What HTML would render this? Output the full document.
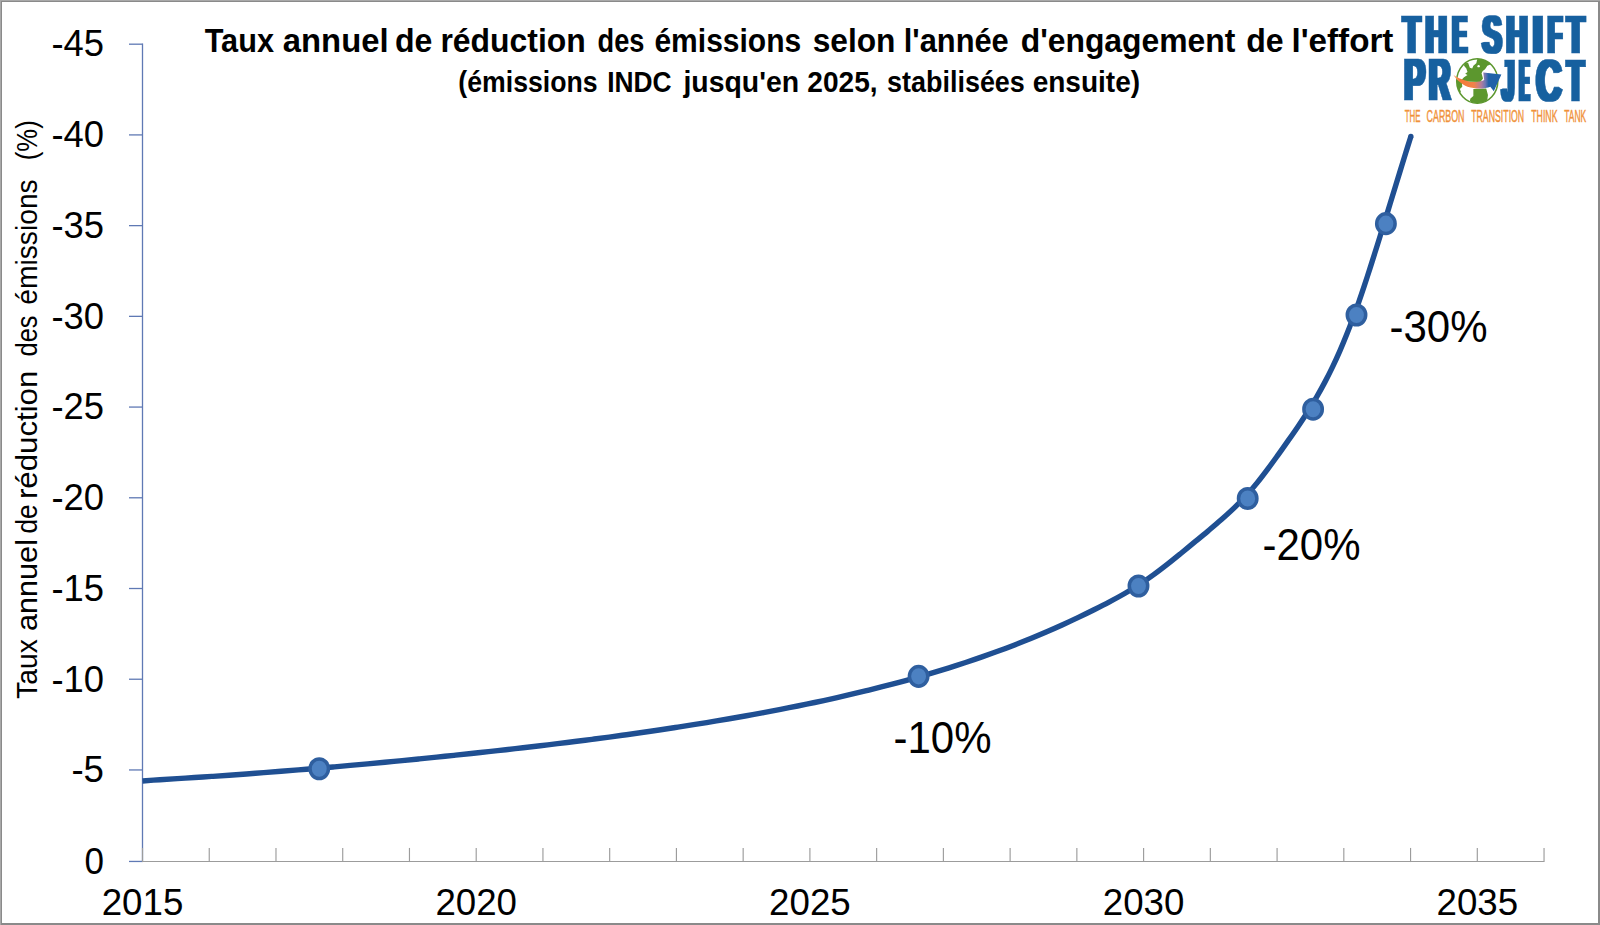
<!DOCTYPE html>
<html lang="fr"><head><meta charset="utf-8"><title>Taux annuel de réduction des émissions</title>
<style>
html,body{margin:0;padding:0;background:#fff;}
body{width:1600px;height:925px;overflow:hidden;}
svg{display:block;}
text{font-family:"Liberation Sans",sans-serif;fill:#000;}
.b{font-weight:bold;}
.logo{font-family:"Liberation Sans",sans-serif;font-weight:bold;fill:#18609f;stroke:#18609f;stroke-width:0.7px;}
.tag{fill:#f0923a;stroke:#f0923a;stroke-width:0.45px;}
</style></head><body>
<svg width="1600" height="925" viewBox="0 0 1600 925">
<defs>
<filter id="fat" x="-5%" y="-5%" width="110%" height="110%"><feMorphology operator="dilate" radius="2 0"/></filter>
<linearGradient id="arw" gradientUnits="userSpaceOnUse" x1="60" y1="0" x2="700" y2="0">
<stop offset="0" stop-color="#f9a36b"/><stop offset="0.18" stop-color="#f47a36"/><stop offset="0.55" stop-color="#f0824a"/><stop offset="0.74" stop-color="#b27c9c"/><stop offset="0.85" stop-color="#6f77b3"/><stop offset="0.94" stop-color="#1f62a8"/><stop offset="1" stop-color="#1f62a8"/></linearGradient>
<clipPath id="gc"><ellipse cx="467" cy="462" rx="352" ry="382"/></clipPath>
</defs>
<rect x="0" y="0" width="1600" height="925" fill="#fff"/>
<rect x="1" y="1" width="1598" height="923" fill="none" stroke="#8a8a8a" stroke-width="2"/>
<rect x="0" y="0" width="1600" height="1" fill="#a8a8a8"/>
<rect x="0" y="0" width="1" height="925" fill="#a8a8a8"/>
<g stroke="#5f79b4" stroke-width="1.3" fill="none">
<line x1="142.50" y1="43.59" x2="142.50" y2="861.45"/>
<line x1="129.00" y1="861.45" x2="142.50" y2="861.45"/>
<line x1="129.00" y1="769.95" x2="142.50" y2="769.95"/>
<line x1="129.00" y1="679.23" x2="142.50" y2="679.23"/>
<line x1="129.00" y1="588.51" x2="142.50" y2="588.51"/>
<line x1="129.00" y1="497.79" x2="142.50" y2="497.79"/>
<line x1="129.00" y1="407.07" x2="142.50" y2="407.07"/>
<line x1="129.00" y1="316.35" x2="142.50" y2="316.35"/>
<line x1="129.00" y1="225.63" x2="142.50" y2="225.63"/>
<line x1="129.00" y1="134.91" x2="142.50" y2="134.91"/>
<line x1="129.00" y1="44.19" x2="142.50" y2="44.19"/>
</g>
<g stroke="#9c9c9c" stroke-width="1.15" fill="none">
<line x1="142.50" y1="861.45" x2="1544.04" y2="861.45"/>
<line x1="142.50" y1="847.95" x2="142.50" y2="862.05"/>
<line x1="209.24" y1="847.95" x2="209.24" y2="862.05"/>
<line x1="275.98" y1="847.95" x2="275.98" y2="862.05"/>
<line x1="342.72" y1="847.95" x2="342.72" y2="862.05"/>
<line x1="409.46" y1="847.95" x2="409.46" y2="862.05"/>
<line x1="476.20" y1="847.95" x2="476.20" y2="862.05"/>
<line x1="542.94" y1="847.95" x2="542.94" y2="862.05"/>
<line x1="609.68" y1="847.95" x2="609.68" y2="862.05"/>
<line x1="676.42" y1="847.95" x2="676.42" y2="862.05"/>
<line x1="743.16" y1="847.95" x2="743.16" y2="862.05"/>
<line x1="809.90" y1="847.95" x2="809.90" y2="862.05"/>
<line x1="876.64" y1="847.95" x2="876.64" y2="862.05"/>
<line x1="943.38" y1="847.95" x2="943.38" y2="862.05"/>
<line x1="1010.12" y1="847.95" x2="1010.12" y2="862.05"/>
<line x1="1076.86" y1="847.95" x2="1076.86" y2="862.05"/>
<line x1="1143.60" y1="847.95" x2="1143.60" y2="862.05"/>
<line x1="1210.34" y1="847.95" x2="1210.34" y2="862.05"/>
<line x1="1277.08" y1="847.95" x2="1277.08" y2="862.05"/>
<line x1="1343.82" y1="847.95" x2="1343.82" y2="862.05"/>
<line x1="1410.56" y1="847.95" x2="1410.56" y2="862.05"/>
<line x1="1477.30" y1="847.95" x2="1477.30" y2="862.05"/>
<line x1="1544.04" y1="847.95" x2="1544.04" y2="862.05"/>
</g>
<path d="M142.50 781.00 C145.39 780.79 154.04 780.11 159.82 779.72 C165.59 779.33 171.37 779.03 177.15 778.67 C182.93 778.31 188.70 777.94 194.48 777.56 C200.26 777.18 206.03 776.79 211.81 776.40 C217.59 776.01 223.37 775.61 229.14 775.20 C234.91 774.79 240.68 774.37 246.45 773.94 C252.22 773.51 258.00 773.08 263.77 772.64 C269.54 772.20 275.31 771.75 281.08 771.29 C286.85 770.83 292.62 770.36 298.39 769.89 C304.16 769.42 309.92 768.94 315.69 768.45 C321.46 767.96 327.22 767.46 332.99 766.96 C338.76 766.46 344.53 765.95 350.29 765.43 C356.06 764.91 361.82 764.38 367.58 763.85 C373.34 763.32 379.10 762.79 384.86 762.24 C390.62 761.69 396.39 761.13 402.15 760.57 C407.91 760.01 413.67 759.44 419.43 758.87 C425.19 758.30 430.95 757.72 436.71 757.13 C442.47 756.54 448.22 755.94 453.98 755.34 C459.74 754.74 465.50 754.13 471.25 753.52 C477.00 752.90 482.76 752.28 488.51 751.65 C494.26 751.02 500.02 750.38 505.77 749.74 C511.52 749.10 517.28 748.44 523.03 747.78 C528.78 747.12 534.53 746.44 540.28 745.76 C546.03 745.08 551.77 744.38 557.52 743.68 C563.26 742.98 569.01 742.26 574.75 741.54 C580.49 740.82 586.24 740.09 591.98 739.34 C597.72 738.59 603.46 737.83 609.19 737.06 C614.93 736.29 620.66 735.51 626.39 734.71 C632.12 733.91 637.85 733.10 643.58 732.27 C649.31 731.44 655.03 730.61 660.76 729.75 C666.49 728.89 672.21 728.02 677.93 727.14 C683.65 726.25 689.37 725.36 695.08 724.44 C700.80 723.53 706.51 722.60 712.22 721.65 C717.93 720.70 723.64 719.74 729.34 718.75 C735.04 717.76 740.74 716.76 746.44 715.74 C752.14 714.72 757.84 713.68 763.53 712.62 C769.22 711.56 774.91 710.48 780.59 709.38 C786.27 708.28 791.96 707.16 797.63 706.01 C803.30 704.86 808.97 703.69 814.63 702.49 C820.29 701.29 825.95 700.06 831.60 698.81 C837.25 697.56 842.89 696.28 848.53 694.97 C854.17 693.66 859.80 692.32 865.42 690.95 C871.04 689.58 876.65 688.18 882.26 686.74 C887.87 685.30 893.47 683.84 899.06 682.33 C904.65 680.83 910.22 679.29 915.79 677.71 C921.36 676.13 926.91 674.52 932.46 672.87 C938.01 671.22 943.55 669.53 949.07 667.80 C954.59 666.07 960.10 664.30 965.59 662.48 C971.08 660.66 976.57 658.81 982.03 656.90 C987.49 654.99 992.94 653.04 998.37 651.04 C1003.80 649.04 1009.22 647.00 1014.61 644.91 C1020.00 642.81 1025.38 640.66 1030.74 638.47 C1036.10 636.28 1041.43 634.03 1046.75 631.74 C1052.07 629.45 1057.37 627.10 1062.64 624.71 C1067.91 622.32 1073.16 619.88 1078.39 617.39 C1083.62 614.90 1088.83 612.36 1094.01 609.77 C1099.19 607.18 1104.36 604.57 1109.47 601.86 C1114.58 599.15 1119.68 596.41 1124.68 593.52 C1129.68 590.63 1134.62 587.64 1139.46 584.50 C1144.30 581.36 1149.02 578.05 1153.70 574.66 C1158.38 571.27 1162.96 567.73 1167.52 564.17 C1172.08 560.61 1176.58 556.93 1181.08 553.27 C1185.58 549.61 1190.04 545.89 1194.52 542.20 C1199.00 538.51 1203.50 534.83 1207.94 531.10 C1212.38 527.37 1216.84 523.66 1221.17 519.83 C1225.51 516.00 1229.81 512.15 1233.95 508.15 C1238.10 504.14 1242.15 500.05 1246.04 495.80 C1249.93 491.55 1253.65 487.13 1257.29 482.65 C1260.93 478.17 1264.41 473.53 1267.88 468.90 C1271.35 464.26 1274.72 459.54 1278.10 454.84 C1281.48 450.14 1284.84 445.42 1288.16 440.68 C1291.48 435.94 1294.81 431.21 1298.04 426.42 C1301.27 421.63 1304.47 416.83 1307.56 411.94 C1310.65 407.05 1313.66 402.10 1316.57 397.09 C1319.48 392.08 1322.30 387.00 1325.00 381.87 C1327.70 376.75 1330.30 371.56 1332.80 366.34 C1335.30 361.12 1337.69 355.86 1340.00 350.56 C1342.31 345.26 1344.52 339.92 1346.67 334.56 C1348.82 329.20 1350.88 323.81 1352.90 318.39 C1354.92 312.97 1356.86 307.52 1358.77 302.06 C1360.68 296.60 1362.52 291.12 1364.35 285.63 C1366.18 280.14 1367.96 274.63 1369.73 269.12 C1371.50 263.61 1373.24 258.08 1374.98 252.56 C1376.72 247.04 1378.44 241.52 1380.16 235.99 C1381.88 230.46 1383.59 224.93 1385.29 219.40 C1386.99 213.87 1388.69 208.33 1390.39 202.80 C1392.09 197.27 1393.77 191.73 1395.47 186.20 C1397.17 180.67 1398.87 175.14 1400.57 169.61 C1402.27 164.08 1403.98 158.55 1405.69 153.03 C1407.40 147.51 1410.00 139.24 1410.86 136.48" fill="none" stroke="#1f4f92" stroke-width="5.4" stroke-linecap="butt" stroke-linejoin="round"/>
<circle cx="1410.86" cy="136.48" r="2.7" fill="#1f4f92"/>
<ellipse cx="319.25" cy="768.75" rx="9.2" ry="9.8" fill="#4c81c2" stroke="#2f5f9f" stroke-width="3.5"/>
<ellipse cx="918.60" cy="676.35" rx="9.2" ry="9.8" fill="#4c81c2" stroke="#2f5f9f" stroke-width="3.5"/>
<ellipse cx="1138.50" cy="586.00" rx="9.2" ry="9.8" fill="#4c81c2" stroke="#2f5f9f" stroke-width="3.5"/>
<ellipse cx="1247.70" cy="498.50" rx="9.2" ry="9.8" fill="#4c81c2" stroke="#2f5f9f" stroke-width="3.5"/>
<ellipse cx="1313.10" cy="409.20" rx="9.2" ry="9.8" fill="#4c81c2" stroke="#2f5f9f" stroke-width="3.5"/>
<ellipse cx="1356.50" cy="315.00" rx="9.2" ry="9.8" fill="#4c81c2" stroke="#2f5f9f" stroke-width="3.5"/>
<ellipse cx="1385.90" cy="223.65" rx="9.2" ry="9.8" fill="#4c81c2" stroke="#2f5f9f" stroke-width="3.5"/>
<text class="b" y="51.5" font-size="33.5"><tspan x="204.67" textLength="69.30" lengthAdjust="spacingAndGlyphs">Taux</tspan> <tspan x="282.79" textLength="105.79" lengthAdjust="spacingAndGlyphs">annuel</tspan> <tspan x="394.94" textLength="37.41" lengthAdjust="spacingAndGlyphs">de</tspan> <tspan x="440.40" textLength="145.33" lengthAdjust="spacingAndGlyphs">réduction</tspan> <tspan x="597.59" textLength="46.83" lengthAdjust="spacingAndGlyphs">des</tspan> <tspan x="654.43" textLength="146.80" lengthAdjust="spacingAndGlyphs">émissions</tspan> <tspan x="812.69" textLength="82.78" lengthAdjust="spacingAndGlyphs">selon</tspan> <tspan x="903.75" textLength="105.01" lengthAdjust="spacingAndGlyphs">l'année</tspan> <tspan x="1020.69" textLength="214.70" lengthAdjust="spacingAndGlyphs">d'engagement</tspan> <tspan x="1246.19" textLength="37.41" lengthAdjust="spacingAndGlyphs">de</tspan> <tspan x="1291.43" textLength="101.97" lengthAdjust="spacingAndGlyphs">l'effort</tspan></text>
<text class="b" y="92.2" font-size="29"><tspan x="458.37" textLength="139.22" lengthAdjust="spacingAndGlyphs">(émissions</tspan> <tspan x="607.14" textLength="64.38" lengthAdjust="spacingAndGlyphs">INDC</tspan> <tspan x="683.44" textLength="115.62" lengthAdjust="spacingAndGlyphs">jusqu'en</tspan> <tspan x="807.33" textLength="70.25" lengthAdjust="spacingAndGlyphs">2025,</tspan> <tspan x="887.05" textLength="137.80" lengthAdjust="spacingAndGlyphs">stabilisées</tspan> <tspan x="1032.65" textLength="107.49" lengthAdjust="spacingAndGlyphs">ensuite)</tspan></text>
<text transform="translate(37.2 698.3) rotate(-90)" y="0" font-size="30"><tspan x="-0.60" textLength="59.69" lengthAdjust="spacingAndGlyphs">Taux</tspan> <tspan x="67.30" textLength="91.95" lengthAdjust="spacingAndGlyphs">annuel</tspan> <tspan x="164.79" textLength="29.27" lengthAdjust="spacingAndGlyphs">de</tspan> <tspan x="199.23" textLength="128.40" lengthAdjust="spacingAndGlyphs">réduction</tspan> <tspan x="341.84" textLength="40.88" lengthAdjust="spacingAndGlyphs">des</tspan> <tspan x="393.60" textLength="125.42" lengthAdjust="spacingAndGlyphs">émissions</tspan> <tspan x="538.11" textLength="39.88" lengthAdjust="spacingAndGlyphs">(%)</tspan></text>
<text x="104.00" y="873.75" font-size="37" text-anchor="end" textLength="19.5" lengthAdjust="spacingAndGlyphs">0</text>
<text x="104.00" y="782.25" font-size="37" text-anchor="end" textLength="32.6" lengthAdjust="spacingAndGlyphs">-5</text>
<text x="104.00" y="691.53" font-size="37" text-anchor="end" textLength="52.6" lengthAdjust="spacingAndGlyphs">-10</text>
<text x="104.00" y="600.81" font-size="37" text-anchor="end" textLength="52.6" lengthAdjust="spacingAndGlyphs">-15</text>
<text x="104.00" y="510.09" font-size="37" text-anchor="end" textLength="52.6" lengthAdjust="spacingAndGlyphs">-20</text>
<text x="104.00" y="419.37" font-size="37" text-anchor="end" textLength="52.6" lengthAdjust="spacingAndGlyphs">-25</text>
<text x="104.00" y="328.65" font-size="37" text-anchor="end" textLength="52.6" lengthAdjust="spacingAndGlyphs">-30</text>
<text x="104.00" y="237.93" font-size="37" text-anchor="end" textLength="52.6" lengthAdjust="spacingAndGlyphs">-35</text>
<text x="104.00" y="147.21" font-size="37" text-anchor="end" textLength="52.6" lengthAdjust="spacingAndGlyphs">-40</text>
<text x="104.00" y="56.49" font-size="37" text-anchor="end" textLength="52.6" lengthAdjust="spacingAndGlyphs">-45</text>
<text x="142.50" y="914.9" font-size="37" text-anchor="middle" textLength="81.6" lengthAdjust="spacingAndGlyphs">2015</text>
<text x="476.20" y="914.9" font-size="37" text-anchor="middle" textLength="81.6" lengthAdjust="spacingAndGlyphs">2020</text>
<text x="809.90" y="914.9" font-size="37" text-anchor="middle" textLength="81.6" lengthAdjust="spacingAndGlyphs">2025</text>
<text x="1143.60" y="914.9" font-size="37" text-anchor="middle" textLength="81.6" lengthAdjust="spacingAndGlyphs">2030</text>
<text x="1477.30" y="914.9" font-size="37" text-anchor="middle" textLength="81.6" lengthAdjust="spacingAndGlyphs">2035</text>
<text x="893.50" y="752.90" font-size="44.5" textLength="98" lengthAdjust="spacingAndGlyphs">-10%</text>
<text x="1262.50" y="560.00" font-size="44.5" textLength="98" lengthAdjust="spacingAndGlyphs">-20%</text>
<text x="1389.50" y="341.60" font-size="44.5" textLength="98" lengthAdjust="spacingAndGlyphs">-30%</text>
<g id="logo">
<text class="logo" filter="url(#fat)"><tspan x="1403.08" y="52.6" font-size="53" textLength="17.32" lengthAdjust="spacingAndGlyphs">T</tspan><tspan x="1425.62" y="52.6" font-size="53" textLength="21.37" lengthAdjust="spacingAndGlyphs">H</tspan><tspan x="1452.46" y="52.6" font-size="53" textLength="14.39" lengthAdjust="spacingAndGlyphs">E</tspan> <tspan x="1482.26" y="52.6" font-size="53" textLength="19.48" lengthAdjust="spacingAndGlyphs">S</tspan><tspan x="1506.31" y="52.6" font-size="53" textLength="21.50" lengthAdjust="spacingAndGlyphs">H</tspan><tspan x="1532.21" y="52.6" font-size="53" textLength="11.19" lengthAdjust="spacingAndGlyphs">I</tspan><tspan x="1547.97" y="52.6" font-size="53" textLength="13.97" lengthAdjust="spacingAndGlyphs">F</tspan><tspan x="1566.98" y="52.6" font-size="53" textLength="17.43" lengthAdjust="spacingAndGlyphs">T</tspan></text>
<text class="logo" filter="url(#fat)"><tspan x="1404.21" y="100.3" font-size="59.5" textLength="20.86" lengthAdjust="spacingAndGlyphs">P</tspan><tspan x="1428.93" y="100.3" font-size="59.5" textLength="21.27" lengthAdjust="spacingAndGlyphs">R</tspan><tspan x="1467.83" y="94.0" font-size="36" textLength="18.36" lengthAdjust="spacingAndGlyphs">O</tspan><tspan x="1501.97" y="101.3" font-size="60" textLength="12.24" lengthAdjust="spacingAndGlyphs">J</tspan><tspan x="1519.86" y="101.3" font-size="60" textLength="9.39" lengthAdjust="spacingAndGlyphs">E</tspan><tspan x="1536.36" y="101.3" font-size="60" textLength="25.29" lengthAdjust="spacingAndGlyphs">C</tspan><tspan x="1566.99" y="101.3" font-size="60" textLength="17.01" lengthAdjust="spacingAndGlyphs">T</tspan></text>
<g transform="translate(1450 54) scale(0.058394)">
<ellipse cx="467" cy="462" rx="352" ry="382" fill="#fff" stroke="#5c972e" stroke-width="26"/>
<g clip-path="url(#gc)" fill="#5c972e">
<path d="M470 75 L560 85 L650 125 L700 175 L640 200 L600 260 L560 290 L540 330 L565 420 L520 480 L200 470 L200 440 L240 400 L300 360 L260 340 L300 310 L280 250 L240 200 L250 160 L310 150 L340 235 L380 250 L400 200 L450 160 Z"/>
<path d="M105 440 L200 450 L210 560 L170 600 L190 660 L130 640 Z"/>
<path d="M400 600 L620 590 L650 700 L640 780 L560 860 L400 860 L340 800 L350 760 L400 720 Z"/>
<circle cx="490" cy="208" r="20" fill="#fff"/>
</g>
<path d="M60 360 C110 395 200 440 350 478 C430 488 520 475 585 445 L570 315 L880 350 L750 640 L690 560 C600 595 450 605 300 560 C200 520 100 430 60 360 Z" fill="url(#arw)"/>
</g>
<text class="tag" y="122" font-size="17.4"><tspan x="1404.70" textLength="15.80" lengthAdjust="spacingAndGlyphs">THE</tspan> <tspan x="1426.60" textLength="37.90" lengthAdjust="spacingAndGlyphs">CARBON</tspan> <tspan x="1471.20" textLength="53.00" lengthAdjust="spacingAndGlyphs">TRANSITION</tspan> <tspan x="1531.20" textLength="26.30" lengthAdjust="spacingAndGlyphs">THINK</tspan> <tspan x="1564.20" textLength="22.00" lengthAdjust="spacingAndGlyphs">TANK</tspan></text>
</g>
</svg></body></html>
